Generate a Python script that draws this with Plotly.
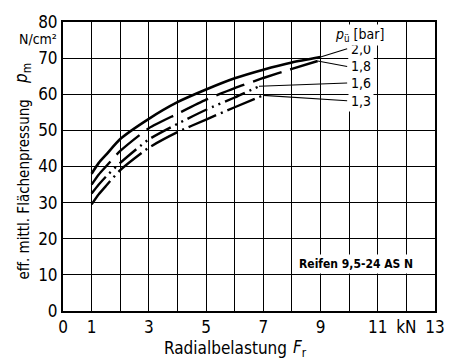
import plotly.graph_objects as go

# Radial load F_r [kN] and effective mean contact pressure p_m [N/cm^2]
# for tyre 9,5-24 AS N at different inflation pressures p_ü [bar]
load_20 = [1, 1.25, 1.5, 2, 3, 4, 5, 6, 7, 8, 9]
press_20 = [38.0, 41.0, 43.2, 47.6, 53.2, 57.8, 61.3, 64.4, 66.8, 68.8, 70.3]

load_18 = [1, 1.25, 1.5, 2, 3, 4, 5, 6, 7, 8, 8.9]
press_18 = [35.0, 37.8, 40.0, 44.3, 50.6, 54.6, 58.5, 61.7, 64.5, 67.0, 69.2]

load_16 = [1, 1.25, 1.5, 2, 3, 4, 5, 6, 6.85]
press_16 = [32.5, 35.0, 37.2, 41.0, 47.5, 51.8, 55.7, 59.1, 62.2]

load_13 = [1, 1.25, 1.5, 2, 3, 4, 5, 6, 7]
press_13 = [29.5, 32.3, 34.6, 39.0, 45.2, 49.5, 53.0, 56.4, 59.7]

series_labels = ["2,0", "1,8", "1,6", "1,3"]
label_y = [72.6, 67.7, 63.1, 58.2]

x_ticks = [0, 1, 3, 5, 7, 9, 11, 12, 13]
x_ticktext = ["0", "1", "3", "5", "7", "9", "11", "kN", "13"]
y_ticks = list(range(0, 90, 10))
y_ticktext = [str(v) for v in y_ticks]

FONT = "DejaVu Sans Condensed, Liberation Sans Narrow, Arial Narrow, sans-serif"
LABEL_X = 9.95

curves = [
    (load_20, press_20, "solid", 2.6),
    (load_18, press_18, "30px,9px", 2.4),
    (load_16, press_16, "22px,5px,2px,5px,2px,5px", 2.4),
    (load_13, press_13, "30px,5px,2px,5px", 2.4),
]

fig = go.Figure()
for (xs, ys, dash, w), name, ly in zip(curves, series_labels, label_y):
    fig.add_trace(go.Scatter(
        x=xs, y=ys, mode="lines", name=name,
        line=dict(color="black", width=w, dash=dash, shape="spline", smoothing=0.6),
        showlegend=False, hoverinfo="skip",
    ))
    # leader line from the curve end to its pressure label
    fig.add_trace(go.Scatter(
        x=[xs[-1], LABEL_X - 0.02], y=[ys[-1], ly],
        mode="lines", line=dict(color="black", width=1.1),
        showlegend=False, hoverinfo="skip",
    ))

axis_common = dict(
    showline=True, linecolor="black", linewidth=2, mirror=True,
    showgrid=True, gridcolor="black", gridwidth=1.4,
    zeroline=False, ticks="",
    tickfont=dict(family=FONT, size=17, color="black"),
)

fig.update_xaxes(range=[0, 13], tickvals=x_ticks, ticktext=x_ticktext,
                 minor=dict(dtick=1, tick0=0, showgrid=True, gridcolor="black",
                            gridwidth=1.4, ticks=""),
                 **axis_common)
fig.update_yaxes(range=[0, 80], tickvals=y_ticks, ticktext=y_ticktext, **axis_common)

# free texts positioned in pixels, converted to paper coordinates below
ann = []
for name, ly in zip(series_labels, label_y):
    ann.append(dict(x=LABEL_X, y=ly, xref="x", yref="y", text=name, showarrow=False,
                    xanchor="left", yanchor="middle", bgcolor="white", borderpad=2,
                    font=dict(family=FONT, size=14, color="black")))
ann.append(dict(x=9.43, y=76.4, xref="x", yref="y",
                text="<i>p</i><sub>ü</sub> [bar]", showarrow=False,
                xanchor="left", yanchor="middle", bgcolor="white", borderpad=1,
                font=dict(family=FONT, size=14, color="black")))
ann.append(dict(x=10.24, y=13, xref="x", yref="y", text="<b>Reifen 9,5-24 AS N</b>",
                showarrow=False, xanchor="center", yanchor="middle",
                bgcolor="white", borderpad=2,
                font=dict(family=FONT, size=12, color="black")))
ann.append(dict(x=59, y=33, xref="paper", yref="paper", text="N/cm²", showarrow=False,
                xanchor="right", yanchor="middle",
                font=dict(family=FONT, size=14, color="black")))
ann.append(dict(x=22, y=187, xref="paper", yref="paper", text="eff. mittl. Flächenpressung",
                showarrow=False, textangle=-90, xanchor="center", yanchor="middle",
                font=dict(family=FONT, size=15, color="black")))
ann.append(dict(x=22, y=69, xref="paper", yref="paper", text="<i>p</i><sub>m</sub>",
                showarrow=False, textangle=-90, xanchor="center", yanchor="middle",
                font=dict(family=FONT, size=17, color="black")))
ann.append(dict(x=165, y=349, xref="paper", yref="paper", text="Radialbelastung",
                showarrow=False, xanchor="left", yanchor="middle",
                font=dict(family=FONT, size=17, color="black")))
ann.append(dict(x=297, y=349, xref="paper", yref="paper", text="<i>F</i><sub>r</sub>",
                showarrow=False, xanchor="left", yanchor="middle",
                font=dict(family=FONT, size=17, color="black")))

L, R, T, B = 63, 12, 16, 50
W, H = 457, 361
pw, ph = W - L - R, H - T - B
for a in ann:
    if a["xref"] == "paper":
        a["x"] = (a["x"] - L) / pw
        a["y"] = (H - B - a["y"]) / ph

fig.update_layout(
    width=W, height=H,
    margin=dict(l=L, r=R, t=T, b=B),
    paper_bgcolor="white", plot_bgcolor="white",
    annotations=ann,
    showlegend=False,
)

fig.write_html("out.html")
